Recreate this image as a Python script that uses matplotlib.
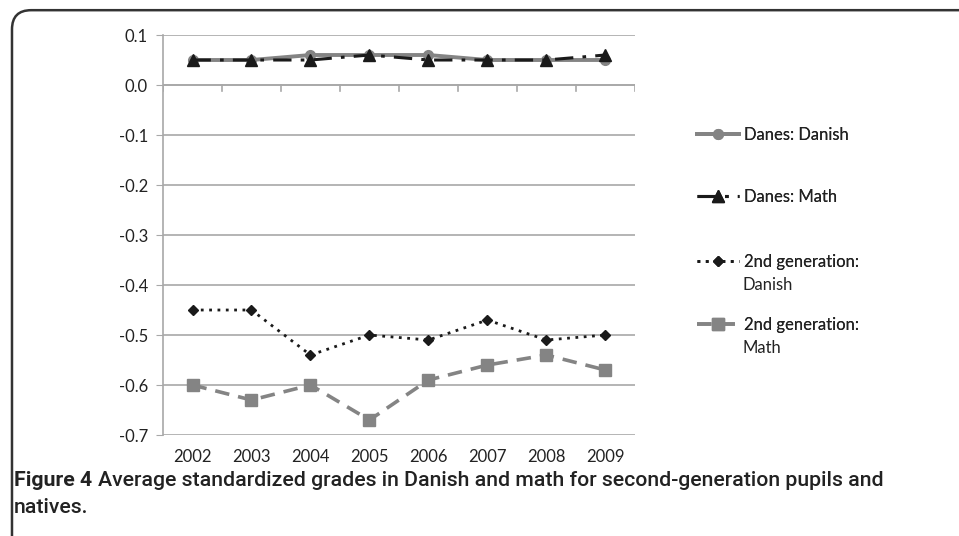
import matplotlib.pyplot as plt
from matplotlib.patches import FancyBboxPatch

# ---- data ----
years = ['2002', '2003', '2004', '2005', '2006', '2007', '2008', '2009']
danes_danish = [0.05, 0.05, 0.06, 0.06, 0.06, 0.05, 0.05, 0.05]
danes_math = [0.05, 0.05, 0.05, 0.06, 0.05, 0.05, 0.05, 0.06]
gen2_danish = [-0.45, -0.45, -0.54, -0.50, -0.51, -0.47, -0.51, -0.50]
gen2_math = [-0.60, -0.63, -0.60, -0.67, -0.59, -0.56, -0.54, -0.57]
yticks = [0.1, 0.0, -0.1, -0.2, -0.3, -0.4, -0.5, -0.6, -0.7]
labels = ['Danes: Danish', 'Danes: Math', '2nd generation:', '2nd generation:']
labels2 = [None, None, 'Danish', 'Math']
caption_bold = 'Figure 4'
caption_1 = 'Average standardized grades in Danish and math for second-generation pupils and'
caption_2 = 'natives.'

plt.rcParams['font.family'] = ['Lato', 'DejaVu Sans']
txt = '#222222'

fig = plt.figure(figsize=(9.59, 5.36), dpi=100)
ax = fig.add_axes([0.170, 0.1884, 0.492, 0.7463])

x = list(range(len(years)))
grey = '#848484'
l1, = ax.plot(x, danes_danish, color=grey, lw=2.8, marker='o', ms=7, zorder=3)
l2, = ax.plot(x, danes_math, color='#1a1a1a', lw=2.2, marker='^', ms=8,
              dashes=(6, 3, 1.2, 3), zorder=4)
l3, = ax.plot(x, gen2_danish, color='#1a1a1a', lw=2.0, marker='D', ms=5,
              linestyle=(0, (1, 2)), zorder=3)
l4, = ax.plot(x, gen2_math, color=grey, lw=2.6, marker='s', ms=8,
              dashes=(4, 2.5), zorder=3)

ax.set_xlim(-0.5, len(years) - 0.5)
ax.set_ylim(-0.7, 0.1)
ax.set_yticks(yticks)
ax.set_yticklabels([f'{v:.1f}' for v in yticks])
ax.yaxis.grid(True, color='#a8a8a8', lw=1.2)
ax.set_axisbelow(True)

for s in ['top', 'right', 'bottom']:
    ax.spines[s].set_visible(False)
ax.spines['left'].set_color('#a8a8a8')
ax.spines['left'].set_linewidth(1.2)
ax.tick_params(axis='y', length=5, color='#a8a8a8', labelsize=12, pad=6, labelcolor=txt)

# x axis crosses at zero, labels stay at the bottom
ax.set_xticks(x)
ax.set_xticklabels(years)
ax.tick_params(axis='x', length=0, labelsize=12, pad=10, labelcolor=txt)
ax.axhline(0, color='#a8a8a8', lw=1.2, zorder=1)
for b in range(len(years) + 1):
    ax.plot([b - 0.5, b - 0.5], [0, -0.012], color='#a8a8a8', lw=1.2, zorder=1)

# legend, one entry each so the spacing matches
handles = [l1, l2, l3, l4]
ypos = [0.748, 0.632, 0.511, 0.394]
for h, lab, lab2, yp in zip(handles, labels, labels2, ypos):
    leg = fig.legend([h], [lab], loc='center left', bbox_to_anchor=(0.727, yp),
                     frameon=False, fontsize=12, handlelength=2.5, handletextpad=0.3,
                     borderpad=0, borderaxespad=0)
    for t in leg.get_texts():
        t.set_color(txt)
    fig.add_artist(leg)
    if lab2:
        fig.text(0.7745, yp - 0.043, lab2, fontsize=12, color=txt, va='center')

# caption, scaled to the reference width
cfam = ['Roboto', 'DejaVu Sans']
t1 = fig.text(0.0146, 0.093, caption_bold, fontsize=13, fontweight='bold', family=cfam, color=txt)
t2 = fig.text(0.0, 0.093, caption_1, fontsize=13, fontweight='medium', family=cfam, color=txt)
t3 = fig.text(0.0146, 0.043, caption_2, fontsize=13, fontweight='medium', family=cfam, color=txt)
r = fig.canvas.get_renderer()
w1 = t1.get_window_extent(r).width
w2 = t2.get_window_extent(r).width
scale = (885 - 14 - 6) / (w1 + w2)
for t in (t1, t2, t3):
    t.set_fontsize(13 * scale)
w1 = t1.get_window_extent(r).width
t2.set_x((14 + w1 + 6) / 959)

# rounded border (open to right and bottom)
box = FancyBboxPatch((0.0125, -0.18), 1.2, 1.161, boxstyle='round,pad=0,rounding_size=0.02',
                     transform=fig.transFigure, fill=False, ec='#333333', lw=1.8,
                     mutation_aspect=9.59 / 5.36)
fig.add_artist(box)

fig.savefig('out.png', dpi=100)
